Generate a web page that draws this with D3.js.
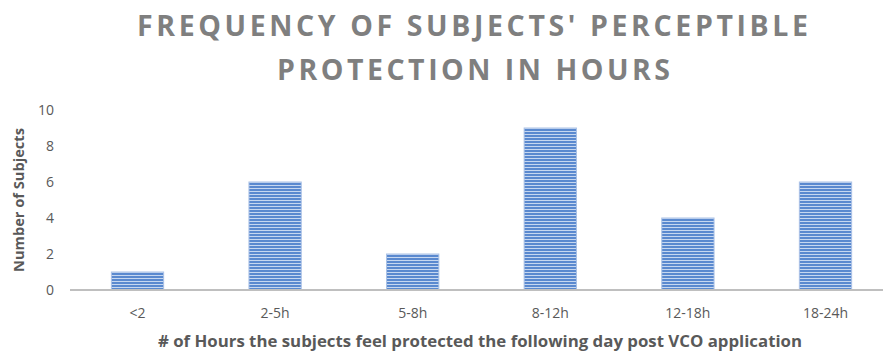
<!DOCTYPE html>
<html><head><meta charset="utf-8">
<script src="https://cdn.jsdelivr.net/npm/d3@7"></script>
<style>body{margin:0;background:#fff}svg{display:block}</style>
</head><body>
<script>
const categories = ["<2","2-5h","5-8h","8-12h","12-18h","18-24h"];
const counts = [1,6,2,9,4,6];
const yTicks = [0,2,4,6,8,10];
const titleLines = ["FREQUENCY OF SUBJECTS' PERCEPTIBLE","PROTECTION IN HOURS"];
const xTitle = "# of Hours the subjects feel protected the following day post VCO application";
const yTitle = "Number of Subjects";

const W=883,H=352;
const svg=d3.select("body").append("svg").attr("width",W).attr("height",H);
const font="'Open Sans', sans-serif";
const defs=svg.append("defs");
const pat=defs.append("pattern").attr("id","stripes").attr("patternUnits","userSpaceOnUse")
  .attr("width",8).attr("height",3);
pat.append("rect").attr("width",8).attr("height",3).attr("fill","#5a89cf");
pat.append("rect").attr("y",2).attr("width",8).attr("height",1).attr("fill","#c6d7f0");

const x=d3.scaleBand().domain(categories).range([68.7,894.3]).paddingInner(0.62).paddingOuter(0.31);
const y=d3.scaleLinear().domain([0,10]).range([290,110]);

// title
const tl=[{t:titleLines[0],y:36,w:671,cx:472.5},{t:titleLines[1],y:80,w:393,cx:473.5}];
tl.forEach(d=>{
  svg.append("text").attr("x",d.cx-d.w/2).attr("y",d.y).attr("textLength",d.w).attr("lengthAdjust","spacing")
    .attr("font-family",font).attr("font-weight","bold").attr("font-size",28.5).attr("fill","#7f7f7f").text(d.t);
});

// bars
svg.append("g").selectAll("rect").data(categories).join("rect")
  .attr("x",d=>x(d)).attr("width",x.bandwidth())
  .attr("y",(d,i)=>y(counts[i])).attr("height",(d,i)=>y(0)-y(counts[i]))
  .attr("fill","url(#stripes)").attr("stroke","#a9c1e6").attr("stroke-width",1);

// baseline
svg.append("line").attr("x1",70).attr("x2",883).attr("y1",y(0)).attr("y2",y(0))
  .attr("stroke","#bfbfbf").attr("stroke-width",2);

// y axis
const ya=svg.append("g").attr("transform","translate(70,0)")
  .call(d3.axisLeft(y).tickValues(yTicks).tickSize(0).tickPadding(16));
ya.select(".domain").remove();
ya.selectAll("text").attr("font-family",font).attr("font-size",14).attr("fill","#595959");

// x axis
const xa=svg.append("g").attr("transform",`translate(0,${y(0)})`)
  .call(d3.axisBottom(x).tickSize(0).tickPadding(18));
xa.select(".domain").remove();
xa.selectAll("text").attr("font-family",font).attr("font-size",14).attr("fill","#595959");

// axis titles
svg.append("text").attr("x",480-322).attr("y",347).attr("textLength",644).attr("lengthAdjust","spacingAndGlyphs")
  .attr("font-family",font).attr("font-weight","bold").attr("font-size",16.5).attr("fill","#595959").text(xTitle);
svg.append("text").attr("transform","translate(24,200) rotate(-90)").attr("text-anchor","middle")
  .attr("textLength",144).attr("lengthAdjust","spacingAndGlyphs")
  .attr("font-family",font).attr("font-weight","bold").attr("font-size",14).attr("fill","#595959").text(yTitle);
</script>
</body></html>
